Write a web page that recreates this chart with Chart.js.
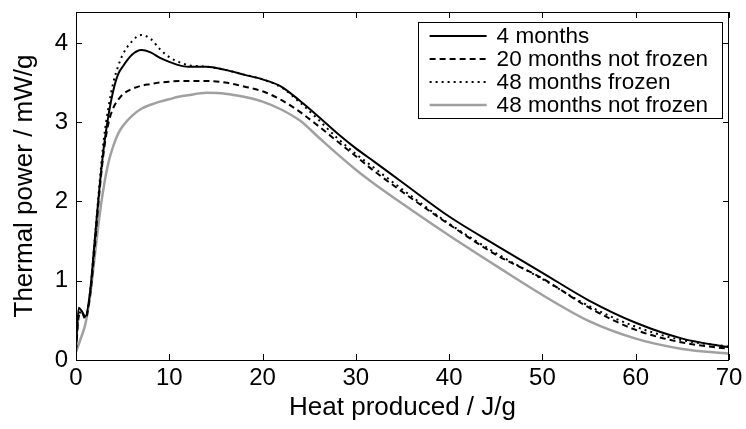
<!DOCTYPE html>
<html>
<head>
<meta charset="utf-8">
<script src="https://cdn.jsdelivr.net/npm/chart.js@4.4.1/dist/chart.umd.min.js"></script>
<style>
    html, body { margin: 0; padding: 0; background: #fff; }
</style>
</head>
<body>
<canvas id="powerChart" width="746" height="429"></canvas>
<script>
// heat produced (J/g), shared by all four curves
const heat = [0, 0.3, 0.6, 1, 1.5, 2, 2.5, 3, 3.5, 4,
              4.5, 5, 6, 7, 8, 9, 10, 11, 12, 14,
              16, 18, 20, 22, 24, 26, 28, 30, 32, 35,
              40, 45, 50, 55, 60, 65, 70];

// thermal power (mW/g)
const power4m = [0.15, 0.66, 0.62, 0.55, 0.85, 1.5, 2.15, 2.7, 3.1, 3.4,
                 3.6, 3.7, 3.85, 3.91, 3.88, 3.81, 3.76, 3.72, 3.70, 3.70,
                 3.66, 3.60, 3.54, 3.45, 3.27, 3.07, 2.86, 2.67, 2.50, 2.24,
                 1.81, 1.45, 1.10, 0.75, 0.47, 0.27, 0.16];
const power20mNotFrozen = [0.12, 0.55, 0.60, 0.52, 0.80, 1.4, 2.1, 2.65, 3.0, 3.18,
                           3.28, 3.35, 3.42, 3.46, 3.48, 3.50, 3.51, 3.52, 3.52, 3.52,
                           3.50, 3.45, 3.39, 3.28, 3.13, 2.95, 2.76, 2.57, 2.38, 2.12,
                           1.71, 1.33, 1.03, 0.66, 0.38, 0.22, 0.14];
const power48mFrozen = [0.15, 0.60, 0.60, 0.55, 0.85, 1.5, 2.2, 2.8, 3.2, 3.5,
                        3.7, 3.85, 4.02, 4.10, 4.05, 3.92, 3.82, 3.76, 3.72, 3.70,
                        3.66, 3.60, 3.54, 3.44, 3.25, 3.03, 2.80, 2.60, 2.42, 2.15,
                        1.72, 1.35, 1.02, 0.68, 0.42, 0.25, 0.17];
const power48mNotFrozen = [0.10, 0.20, 0.30, 0.45, 0.80, 1.3, 1.8, 2.2, 2.5, 2.7,
                           2.85, 2.95, 3.08, 3.17, 3.22, 3.26, 3.29, 3.32, 3.34, 3.37,
                           3.36, 3.32, 3.26, 3.16, 3.02, 2.81, 2.60, 2.40, 2.22, 1.97,
                           1.57, 1.19, 0.82, 0.49, 0.27, 0.14, 0.08];

const seriesLabels = ['4 months', '20 months not frozen', '48 months frozen', '48 months not frozen'];
const xTicks = [0, 10, 20, 30, 40, 50, 60, 70];
const yTicks = [0, 1, 2, 3, 4];

const FONT = '"Liberation Sans", Arial, sans-serif';

function toPoints(values) {
    return heat.map((x, i) => ({ x: x, y: values[i] }));
}

// box round the plot with inward tick marks on all four sides
const framePlugin = {
    id: 'frame',
    afterDatasetsDraw(chart) {
        const { ctx, chartArea: a, scales } = chart;
        const len = 6;
        ctx.save();
        ctx.strokeStyle = '#000';
        ctx.lineWidth = 1;
        ctx.strokeRect(a.left + 0.5, a.top + 0.5, a.right - a.left - 1, a.bottom - a.top);
        ctx.beginPath();
        xTicks.forEach(v => {
            const px = Math.round(scales.x.getPixelForValue(v)) + 0.5;
            ctx.moveTo(px, a.bottom); ctx.lineTo(px, a.bottom - len);
            ctx.moveTo(px, a.top); ctx.lineTo(px, a.top + len);
        });
        yTicks.forEach(v => {
            const py = Math.round(scales.y.getPixelForValue(v)) + 0.5;
            ctx.moveTo(a.left, py); ctx.lineTo(a.left + len, py);
            ctx.moveTo(a.right, py); ctx.lineTo(a.right - len, py);
        });
        ctx.stroke();
        ctx.restore();
    }
};

// boxed legend in the top right corner of the plot
const boxLegendPlugin = {
    id: 'boxLegend',
    afterDraw(chart) {
        const { ctx, chartArea: a } = chart;
        const sets = chart.data.datasets;
        ctx.save();
        ctx.font = '22.5px ' + FONT;
        const textW = Math.max(...sets.map(d => ctx.measureText(d.label).width));
        const lineLen = 57, padL = 12, gap = 10, padR = 14, rowH = 23;
        const w = padL + lineLen + gap + textW + padR;
        const h = rowH * sets.length + 4;
        const right = a.right - 7;
        const left = right - w;
        const top = a.top + 10;
        ctx.fillStyle = '#fff';
        ctx.fillRect(left, top, w, h);
        ctx.strokeStyle = '#000';
        ctx.lineWidth = 1;
        ctx.strokeRect(Math.round(left) + 0.5, top + 0.5, Math.round(w), h);
        sets.forEach((d, i) => {
            const cy = top + 14 + i * rowH;
            ctx.beginPath();
            ctx.strokeStyle = d.borderColor;
            ctx.lineWidth = d.borderWidth;
            ctx.setLineDash(d.borderDash || []);
            ctx.moveTo(left + padL, cy);
            ctx.lineTo(left + padL + lineLen, cy);
            ctx.stroke();
            ctx.setLineDash([]);
            ctx.fillStyle = '#000';
            ctx.textBaseline = 'middle';
            ctx.textAlign = 'left';
            ctx.fillText(d.label, left + padL + lineLen + gap, cy + 1);
        });
        ctx.restore();
    }
};

const lineStyle = {
    pointRadius: 0,
    pointHoverRadius: 0,
    fill: false,
    cubicInterpolationMode: 'monotone'
};

new Chart(document.getElementById('powerChart').getContext('2d'), {
    type: 'scatter',
    data: {
        datasets: [
            Object.assign({ label: seriesLabels[0], data: toPoints(power4m),
                borderColor: '#000', borderWidth: 2, showLine: true }, lineStyle),
            Object.assign({ label: seriesLabels[1], data: toPoints(power20mNotFrozen),
                borderColor: '#000', borderWidth: 2, borderDash: [6, 4], showLine: true }, lineStyle),
            Object.assign({ label: seriesLabels[2], data: toPoints(power48mFrozen),
                borderColor: '#000', borderWidth: 2, borderDash: [2, 4], showLine: true }, lineStyle),
            Object.assign({ label: seriesLabels[3], data: toPoints(power48mNotFrozen),
                borderColor: '#a0a0a0', borderWidth: 2.5, showLine: true }, lineStyle)
        ]
    },
    options: {
        responsive: false,
        animation: false,
        devicePixelRatio: 1,
        layout: { padding: { left: 0, top: 12, right: 17, bottom: 0 } },
        plugins: {
            legend: { display: false },
            tooltip: { enabled: false }
        },
        scales: {
            x: {
                type: 'linear',
                min: 0,
                max: 70,
                afterBuildTicks: s => { s.ticks = xTicks.map(v => ({ value: v })); },
                afterFit: s => { s.height = 69; s.paddingLeft = 0; s.paddingRight = 0; },
                grid: { display: false, drawTicks: false },
                border: { display: false },
                ticks: { color: '#000', font: { family: FONT, size: 24 }, padding: 4, maxRotation: 0 },
                title: { display: true, text: 'Heat produced / J/g', color: '#000',
                         font: { family: FONT, size: 26 }, padding: { top: 0, bottom: 6 } }
            },
            y: {
                type: 'linear',
                min: 0,
                max: 4.39,
                afterBuildTicks: s => { s.ticks = yTicks.map(v => ({ value: v })); },
                afterFit: s => { s.width = 76; s.paddingTop = 0; s.paddingBottom = 0; },
                grid: { display: false, drawTicks: false },
                border: { display: false },
                ticks: { color: '#000', font: { family: FONT, size: 24 }, padding: 8 },
                title: { display: true, text: 'Thermal power / mW/g', color: '#000',
                         font: { family: FONT, size: 26 }, padding: { top: 9, bottom: 0 } }
            }
        }
    },
    plugins: [framePlugin, boxLegendPlugin]
});
</script>
</body>
</html>
